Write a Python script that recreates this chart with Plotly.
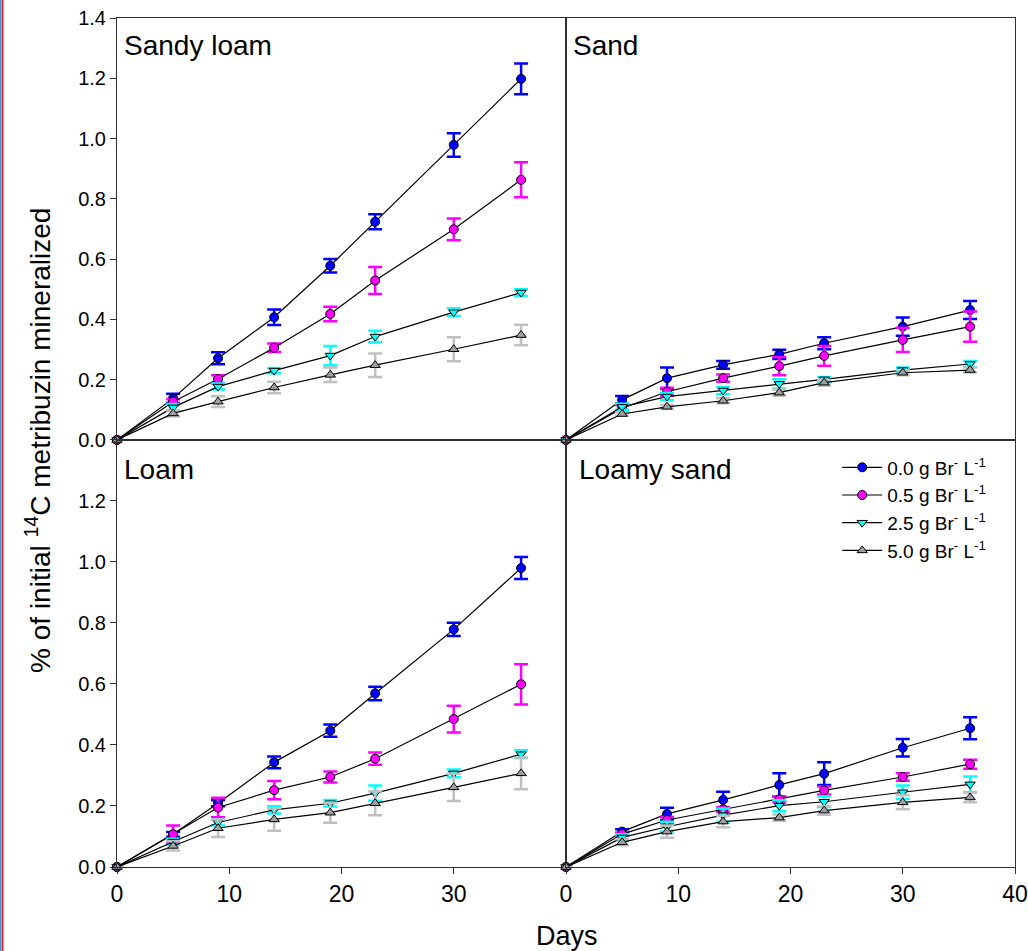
import plotly.graph_objects as go

days = [0, 5, 9, 14, 19, 23, 30, 36]
panels = ["Sandy loam", "Sand", "Loam", "Loamy sand"]
series_names = ["0.0 g Br<sup>-</sup> L<sup>-1</sup>", "0.5 g Br<sup>-</sup> L<sup>-1</sup>",
                "2.5 g Br<sup>-</sup> L<sup>-1</sup>", "5.0 g Br<sup>-</sup> L<sup>-1</sup>"]

# Sandy loam
sl_00 = [0, 0.138, 0.271, 0.407, 0.578, 0.724, 0.979, 1.198]
sl_00_e = [0, 0.015, 0.020, 0.026, 0.022, 0.025, 0.039, 0.051]
sl_05 = [0, 0.127, 0.202, 0.306, 0.418, 0.529, 0.699, 0.863]
sl_05_e = [0, 0.008, 0.013, 0.014, 0.024, 0.045, 0.036, 0.058]
sl_25 = [0, 0.108, 0.177, 0.230, 0.280, 0.343, 0.424, 0.489]
sl_25_e = [0, 0.011, 0.010, 0.009, 0.032, 0.019, 0.013, 0.011]
sl_50 = [0, 0.088, 0.127, 0.174, 0.216, 0.248, 0.301, 0.348]
sl_50_e = [0, 0.010, 0.018, 0.019, 0.024, 0.039, 0.040, 0.034]

# Sand
sa_00 = [0, 0.133, 0.205, 0.249, 0.284, 0.321, 0.376, 0.431]
sa_00_e = [0, 0.013, 0.035, 0.013, 0.015, 0.020, 0.030, 0.030]
sa_05 = [0, 0.105, 0.160, 0.205, 0.245, 0.279, 0.332, 0.376]
sa_05_e = [0, 0.010, 0.013, 0.012, 0.030, 0.033, 0.040, 0.050]
sa_25 = [0, 0.110, 0.144, 0.164, 0.186, 0.201, 0.232, 0.252]
sa_25_e = [0, 0.010, 0.012, 0.012, 0.015, 0.008, 0.008, 0.010]
sa_50 = [0, 0.086, 0.110, 0.130, 0.157, 0.190, 0.223, 0.232]
sa_50_e = [0, 0.006, 0.006, 0.008, 0.010, 0.010, 0.008, 0.008]

# Loam
lo_00 = [0, 0.107, 0.209, 0.343, 0.447, 0.569, 0.779, 0.980]
lo_00_e = [0, 0.008, 0.010, 0.019, 0.020, 0.022, 0.022, 0.036]
lo_05 = [0, 0.107, 0.195, 0.252, 0.295, 0.355, 0.485, 0.599]
lo_05_e = [0, 0.029, 0.032, 0.030, 0.018, 0.020, 0.044, 0.066]
lo_25 = [0, 0.083, 0.146, 0.187, 0.209, 0.242, 0.307, 0.370]
lo_25_e = [0, 0.010, 0.010, 0.012, 0.011, 0.025, 0.013, 0.013]
lo_50 = [0, 0.069, 0.127, 0.156, 0.178, 0.209, 0.261, 0.307]
lo_50_e = [0, 0.015, 0.029, 0.037, 0.033, 0.039, 0.045, 0.052]

# Loamy sand
ls_00 = [0, 0.116, 0.174, 0.220, 0.269, 0.306, 0.391, 0.455]
ls_00_e = [0, 0.008, 0.020, 0.027, 0.038, 0.037, 0.029, 0.036]
ls_05 = [0, 0.108, 0.154, 0.189, 0.222, 0.251, 0.295, 0.337]
ls_05_e = [0, 0.005, 0.010, 0.008, 0.010, 0.013, 0.012, 0.015]
ls_25 = [0, 0.097, 0.132, 0.170, 0.201, 0.214, 0.245, 0.271]
ls_25_e = [0, 0.010, 0.016, 0.022, 0.018, 0.017, 0.022, 0.026]
ls_50 = [0, 0.081, 0.116, 0.149, 0.162, 0.185, 0.212, 0.228]
ls_50_e = [0, 0.010, 0.020, 0.019, 0.010, 0.014, 0.023, 0.016]

panel_data = [
    [(sl_00, sl_00_e), (sl_05, sl_05_e), (sl_25, sl_25_e), (sl_50, sl_50_e)],
    [(sa_00, sa_00_e), (sa_05, sa_05_e), (sa_25, sa_25_e), (sa_50, sa_50_e)],
    [(lo_00, lo_00_e), (lo_05, lo_05_e), (lo_25, lo_25_e), (lo_50, lo_50_e)],
    [(ls_00, ls_00_e), (ls_05, ls_05_e), (ls_25, ls_25_e), (ls_50, ls_50_e)],
]

marker_fill = ["#0000FF", "#FF00FF", "#00FFFF", "#A0A0A0"]
err_color = ["#0000FF", "#FF00FF", "#00FFFF", "#C0C0C0"]
marker_sym = ["circle", "circle", "triangle-down", "triangle-up"]

fig = go.Figure()

axis_ids = [("x", "y"), ("x2", "y2"), ("x3", "y3"), ("x4", "y4")]
for p, (xa, ya) in enumerate(axis_ids):
    for s in range(4):
        vals, errs = panel_data[p][s]
        fig.add_trace(go.Scatter(
            x=days, y=vals, xaxis=xa, yaxis=ya,
            mode="lines+markers",
            name=series_names[s],
            showlegend=(p == 3),
            line=dict(color="black", width=1.2),
            marker=dict(symbol=marker_sym[s], size=9,
                        color=marker_fill[s], line=dict(color="black", width=1)),
            error_y=dict(type="data", array=errs, visible=True,
                         color=err_color[s], thickness=2.5, width=7),
            cliponaxis=False,
        ))

split_x = 0.5
split_y = 0.503
ytickfont = dict(family="Liberation Sans", size=20, color="black")
xtickfont = dict(family="Liberation Sans", size=23, color="black")
frame = dict(showline=True, linecolor="#303030", linewidth=1, mirror=True,
             showgrid=False, zeroline=False, automargin=False)

layout = dict(
    width=1028, height=951,
    paper_bgcolor="white", plot_bgcolor="white",
    margin=dict(l=117, r=13, t=18, b=84, autoexpand=False),
    xaxis=dict(domain=[0, split_x], anchor="y", range=[0, 40], showticklabels=False,
               ticks="", **frame),
    yaxis=dict(domain=[split_y, 1], anchor="x", range=[0, 1.4],
               tickvals=[0, 0.2, 0.4, 0.6, 0.8, 1.0, 1.2, 1.4],
               ticktext=["0.0", "0.2", "0.4", "0.6", "0.8", "1.0", "1.2", "1.4"],
               ticks="outside", ticklen=6, tickcolor="#303030", tickfont=ytickfont,
               ticklabeloverflow="allow", **frame),
    xaxis2=dict(domain=[split_x, 1], anchor="y2", range=[0, 40], showticklabels=False,
                ticks="", **frame),
    yaxis2=dict(domain=[split_y, 1], anchor="x2", range=[0, 1.4], showticklabels=False,
                ticks="", **frame),
    xaxis3=dict(domain=[0, split_x], anchor="y3", range=[0, 40],
                tickvals=[0, 10, 20, 30], ticks="outside", ticklen=6, tickcolor="#303030",
                tickfont=xtickfont, **frame),
    yaxis3=dict(domain=[0, split_y], anchor="x3", range=[0, 1.4],
                tickvals=[0, 0.2, 0.4, 0.6, 0.8, 1.0, 1.2],
                ticktext=["0.0", "0.2", "0.4", "0.6", "0.8", "1.0", "1.2"],
                ticks="outside", ticklen=6, tickcolor="#303030", tickfont=ytickfont, **frame),
    xaxis4=dict(domain=[split_x, 1], anchor="y4", range=[0, 40],
                tickvals=[0, 10, 20, 30, 40], ticks="outside", ticklen=6, tickcolor="#303030",
                tickfont=xtickfont, ticklabeloverflow="allow", **frame),
    yaxis4=dict(domain=[0, split_y], anchor="x4", range=[0, 1.4], showticklabels=False,
                ticks="", **frame),
    legend=dict(x=0.802, y=0.493, xanchor="left", yanchor="top",
                bgcolor="rgba(0,0,0,0)",
                font=dict(family="Liberation Sans", size=19, color="black"),
                tracegroupgap=0, itemwidth=40),
    font=dict(family="Liberation Sans", color="black"),
)
fig.update_layout(**layout)

label_font = dict(family="Liberation Sans", size=28, color="black")
panel_pos = [("x domain", "y domain", 0.012, 0.936), ("x2 domain", "y2 domain", 0.011, 0.936),
             ("x3 domain", "y3 domain", 0.012, 0.930), ("x4 domain", "y4 domain", 0.024, 0.930)]
for name, (xr, yr, px, py) in zip(panels, panel_pos):
    fig.add_annotation(text=name, xref=xr, yref=yr, x=px, y=py, xanchor="left", yanchor="middle",
                       showarrow=False, font=label_font)

fig.add_annotation(text="% of initial <sup>14</sup>C metribuzin mineralized",
                   xref="paper", yref="paper", x=-0.088, y=0.503, textangle=-90,
                   xanchor="center", yanchor="middle", showarrow=False,
                   font=dict(family="Liberation Sans", size=28, color="black"))
fig.add_annotation(text="Days", xref="paper", yref="paper", x=0.501, y=-0.081,
                   xanchor="center", yanchor="middle", showarrow=False,
                   font=dict(family="Liberation Sans", size=27, color="black"))

# thin page border lines at the left edge
fig.add_shape(type="line", xref="paper", yref="paper", x0=-0.1297, x1=-0.1297, y0=-0.1, y1=1.03,
              line=dict(color="#3A8FD0", width=1))
fig.add_shape(type="line", xref="paper", yref="paper", x0=-0.1275, x1=-0.1275, y0=-0.1, y1=1.03,
              line=dict(color="#E02020", width=2))

fig.write_html("out.html", config={"displayModeBar": False},
               post_script="document.body.style.margin='0';document.body.style.overflow='hidden';")
